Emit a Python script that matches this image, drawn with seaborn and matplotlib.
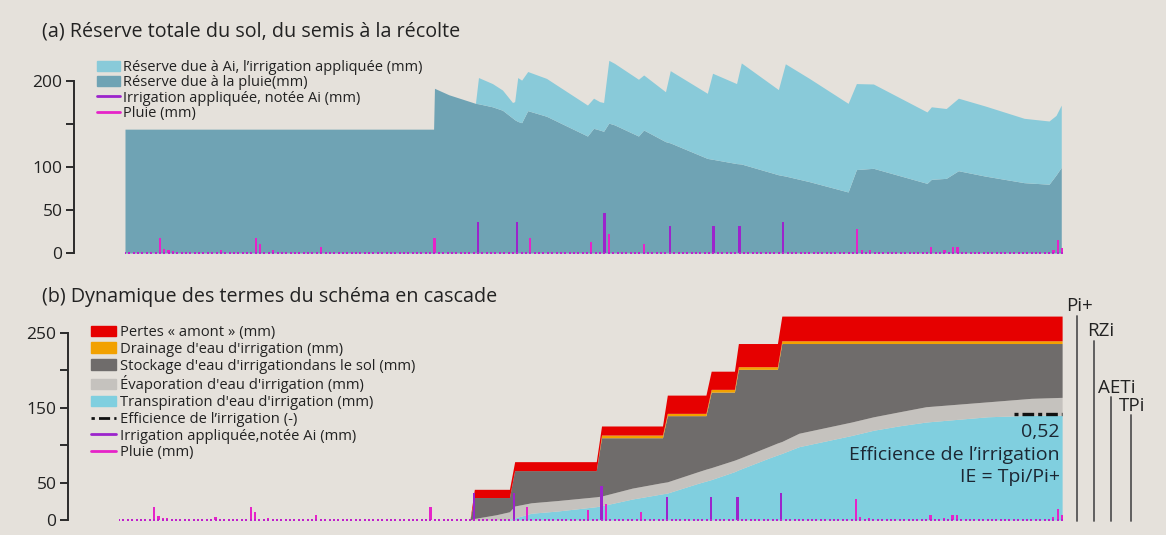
import numpy as np
import pandas as pd
import matplotlib
matplotlib.use("Agg")
import matplotlib.pyplot as plt
import seaborn as sns
from matplotlib.patches import Patch
from matplotlib.lines import Line2D

sns.set_theme(style="white")
plt.rcParams["font.family"] = ["Open Sans", "DejaVu Sans"]

# --- données (jours depuis le semis, mm) ---
n_days = 216
rain_days = [8, 9, 10, 11, 15, 22, 30, 31, 34, 45, 71, 93, 107, 111, 119,
             168, 169, 171, 185, 188, 190, 191, 213, 214, 215]
rain_mm = [18, 5, 3, 2, 1.5, 3.5, 18, 10, 3, 6.5, 18, 18, 13, 22, 10,
           28, 4, 3, 7, 3, 6.5, 6.5, 4, 15, 6]
irr_days = [81, 90, 110, 125, 135, 141, 151]
irr_mm = [36, 36, 46, 31, 31, 31, 36]

# (a) réserve du sol
top_days = [0, 70.8, 71, 74.3, 79.8, 80.4, 81.1, 84.3, 86.6, 88.9,
            89.4, 90.1, 91, 92.4, 96.7, 106.1, 107.5, 108.9, 109.8, 111,
            112.3, 117.8, 119, 124, 125.1, 133.6, 134.8, 140.3, 141.4, 149.9,
            151.5, 157, 165.9, 167.8, 171.7, 184, 185, 188.4, 191.2, 197.3,
            206.3, 212, 213.6, 214.8]
reserve_rain = [144, 144, 191.5, 184, 175, 174, 173.5, 170, 166, 157,
                155, 153, 151.5, 165.5, 159, 136, 145, 143, 141.5, 151,
                149, 136, 143, 129.5, 128, 110, 109, 104, 103.5, 91,
                89.5, 83, 71, 97, 98.5, 81, 85.7, 86.8, 95.7, 89.5,
                81.8, 80, 90.7, 99.6]
reserve_total = [144, 144, 191.5, 184, 175, 174, 204, 197, 189.5, 175,
                 176, 204, 201, 211, 203, 172, 180, 176, 175, 224,
                 220.5, 202, 207, 187.5, 212, 185.7, 209, 197, 221, 190,
                 220, 203, 174, 197, 196.5, 164, 170, 168, 180, 171,
                 156.6, 153.5, 160, 172]

# (b) schéma en cascade, valeurs cumulées
bot_days = [0, 80, 81, 86, 89, 90.2, 94, 100, 108.8, 110,
            117, 123.9, 125, 132, 133.8, 135, 140.3, 141.2, 148, 150.1,
            151.1, 155, 163, 167, 172, 178, 184, 198, 208, 215]
pi_plus = [0, 0, 41, 41, 41, 78, 78, 78, 78, 125.7,
           125.7, 125.7, 167, 167, 167, 199, 199, 236, 236, 236] + [272.7] * 10
rz_top = [0, 0, 30, 30, 30, 66, 66, 66, 66, 113.6,
          113.6, 113.6, 142.6, 142.6, 142.6, 174.7, 174.7, 205, 205, 205] + [239.7] * 10
store_top = [0, 0, 30, 30, 30, 66, 66, 66, 66, 110,
             110, 110, 139.5, 139.5, 139.5, 171, 171, 201.5, 201.5, 201.5] + [236] * 10
aet = [0, 0, 2, 7, 11, 18.7, 23, 26, 31, 32,
       42.6, 50, 51, 64.6, 68, 70, 80, 82, 98, 103,
       105, 116, 126, 131, 138, 144.8, 151.5, 158, 162.7, 164]
tp = [0, 0, 0, 0, 1, 2.7, 9, 12, 17.8, 19,
      28, 35, 36, 49, 52, 54, 64.6, 67, 82.5, 87,
      89, 98, 108, 113, 120, 126, 131, 138, 140, 140]
eff_days = [204, 215]
eff = [0.52, 0.52]

BG = "#e5e1db"
C_IRR_RES = "#89cad9"
C_RAIN_RES = "#6fa3b4"
C_IRR = "#9c24cc"
C_RAIN = "#e623c8"
C_RED = "#e60000"
C_ORANGE = "#f2a100"
C_DARK = "#6f6c6b"
C_LIGHT = "#c5c2be"
C_CYAN = "#80cfdf"
TXT = "#222222"

W, H = 1166, 535
fig = plt.figure(figsize=(W / 100, H / 100), dpi=100, facecolor=BG)
ax_a = fig.add_axes([125 / W, 0.5222, 938 / W, 0.3827])
ax_b = fig.add_axes([119 / W, 0.0239, 944 / W, 0.3955])

days = np.arange(n_days)
rain_df = pd.DataFrame({"day": rain_days, "mm": rain_mm})
irr_df = pd.DataFrame({"day": irr_days, "mm": irr_mm})


def draw_bars(ax):
    ax.bar(irr_df["day"], irr_df["mm"], width=0.5, color=C_IRR, zorder=4, lw=0)
    ax.bar(rain_df["day"], rain_df["mm"], width=0.5, color=C_RAIN, zorder=4, lw=0)
    sns.scatterplot(x=days, y=np.zeros(n_days), marker="s", s=3.5, color="#c020cc",
                    linewidth=0, ax=ax, zorder=5, legend=False)


def style_axis(ax, ticks, labels, top):
    for s in ["top", "right", "bottom"]:
        ax.spines[s].set_visible(False)
    ax.spines["left"].set_position(("outward", 37))
    ax.spines["left"].set_bounds(0, top)
    ax.spines["left"].set_color("#2b2b2b")
    ax.spines["left"].set_linewidth(1.4)
    ax.set_yticks(ticks)
    ax.set_yticklabels(labels)
    ax.tick_params(axis="y", direction="out", length=6, width=1.4, color="#2b2b2b",
                   labelsize=12.5, labelcolor=TXT, pad=2, left=True)
    ax.set_xticks([])
    ax.set_facecolor("none")
    ax.set_xlabel("")
    ax.set_ylabel("")


# (a)
ax_a.fill_between(top_days, 0, reserve_rain, color=C_RAIN_RES, lw=0, zorder=2)
ax_a.fill_between(top_days, reserve_rain, reserve_total, color=C_IRR_RES, lw=0, zorder=2)
draw_bars(ax_a)
ax_a.set_xlim(0, 215.2)
ax_a.set_ylim(-3, 235)
style_axis(ax_a, [0, 50, 100, 150, 200], ["0", "50", "100", "", "200"], 200)

h_a = [Patch(color=C_IRR_RES), Patch(color=C_RAIN_RES),
       Line2D([], [], color=C_IRR, lw=2), Line2D([], [], color=C_RAIN, lw=2)]
l_a = ["Réserve due à Ai, l’irrigation appliquée (mm)", "Réserve due à la pluie(mm)",
       "Irrigation appliquée, notée Ai (mm)", "Pluie (mm)"]
fig.legend(h_a, l_a, loc="upper left", bbox_to_anchor=(97 / W, 1 - 60 / H),
           frameon=False, fontsize=10.5, handlelength=1.6, handletextpad=0.2,
           labelspacing=0.02, borderpad=0, borderaxespad=0, labelcolor=TXT)

# (b)
ax_b.fill_between(bot_days, 0, tp, color=C_CYAN, lw=0, zorder=2)
ax_b.fill_between(bot_days, tp, aet, color=C_LIGHT, lw=0, zorder=2)
ax_b.fill_between(bot_days, aet, store_top, color=C_DARK, lw=0, zorder=2)
ax_b.fill_between(bot_days, store_top, rz_top, color=C_ORANGE, lw=0, zorder=2)
ax_b.fill_between(bot_days, rz_top, pi_plus, color=C_RED, lw=0, zorder=2)
draw_bars(ax_b)
sns.lineplot(x=eff_days, y=np.array(eff) * pi_plus[-1], color="#111111", lw=2.4,
             dashes=(1.2, 1.2, 3.5, 1.2), ax=ax_b, zorder=6)
ax_b.set_xlim(0, 215.2)
ax_b.set_ylim(-3, 280)
style_axis(ax_b, [0, 50, 100, 150, 200, 250], ["0", "50", "", "150", "", "250"], 250)

h_b = [Patch(color=C_RED), Patch(color=C_ORANGE), Patch(color=C_DARK),
       Patch(color=C_LIGHT), Patch(color=C_CYAN),
       Line2D([], [], color="#111111", lw=2, dashes=(1.2, 1.5, 4, 1.5)),
       Line2D([], [], color=C_IRR, lw=2), Line2D([], [], color=C_RAIN, lw=2)]
l_b = ["Pertes « amont » (mm)", "Drainage d'eau d'irrigation (mm)",
       "Stockage d'eau d'irrigationdans le sol (mm)", "Évaporation d'eau d'irrigation (mm)",
       "Transpiration d'eau d'irrigation (mm)", "Efficience de l’irrigation (-)",
       "Irrigation appliquée,notée Ai (mm)", "Pluie (mm)"]
fig.legend(h_b, l_b, loc="upper left", bbox_to_anchor=(91 / W, 1 - 325 / H),
           frameon=False, fontsize=10.6, handlelength=1.7, handletextpad=0.25,
           labelspacing=0.12, borderpad=0, borderaxespad=0, labelcolor=TXT)

# barres verticales à droite (valeurs finales)
right_terms = [("Pi+", pi_plus[-1], 218.4, 0.6), ("RZi", rz_top[-1], 222.3, 1.4),
               ("AETi", aet[-1], 226.1, 1.4), ("TPi", tp[-1], 230.7, 0.3)]
for name, val, xd, dx in right_terms:
    ax_b.plot([xd, xd], [-2, val], color="#555555", lw=1.3, clip_on=False)
    ax_b.text(xd + dx, val + 1, name, ha="center", va="bottom", fontsize=13.5,
              color=TXT, clip_on=False)

ax_b.text(214.5, 118, "0,52", ha="right", va="center", fontsize=14, color="#1c2733")
ax_b.text(214.5, 87, "Efficience de l’irrigation", ha="right", va="center",
          fontsize=14, color="#1c2733")
ax_b.text(214.5, 58, "IE = Tpi/Pi+", ha="right", va="center", fontsize=14, color="#1c2733")

fig.text(42 / W, 1 - 31 / H, "(a) Réserve totale du sol, du semis à la récolte",
         fontsize=14.2, color=TXT, va="center")
fig.text(42 / W, 1 - 297 / H, "(b) Dynamique des termes du schéma en cascade",
         fontsize=14.2, color=TXT, va="center")

fig.savefig("out.png", dpi=100, facecolor=BG)
